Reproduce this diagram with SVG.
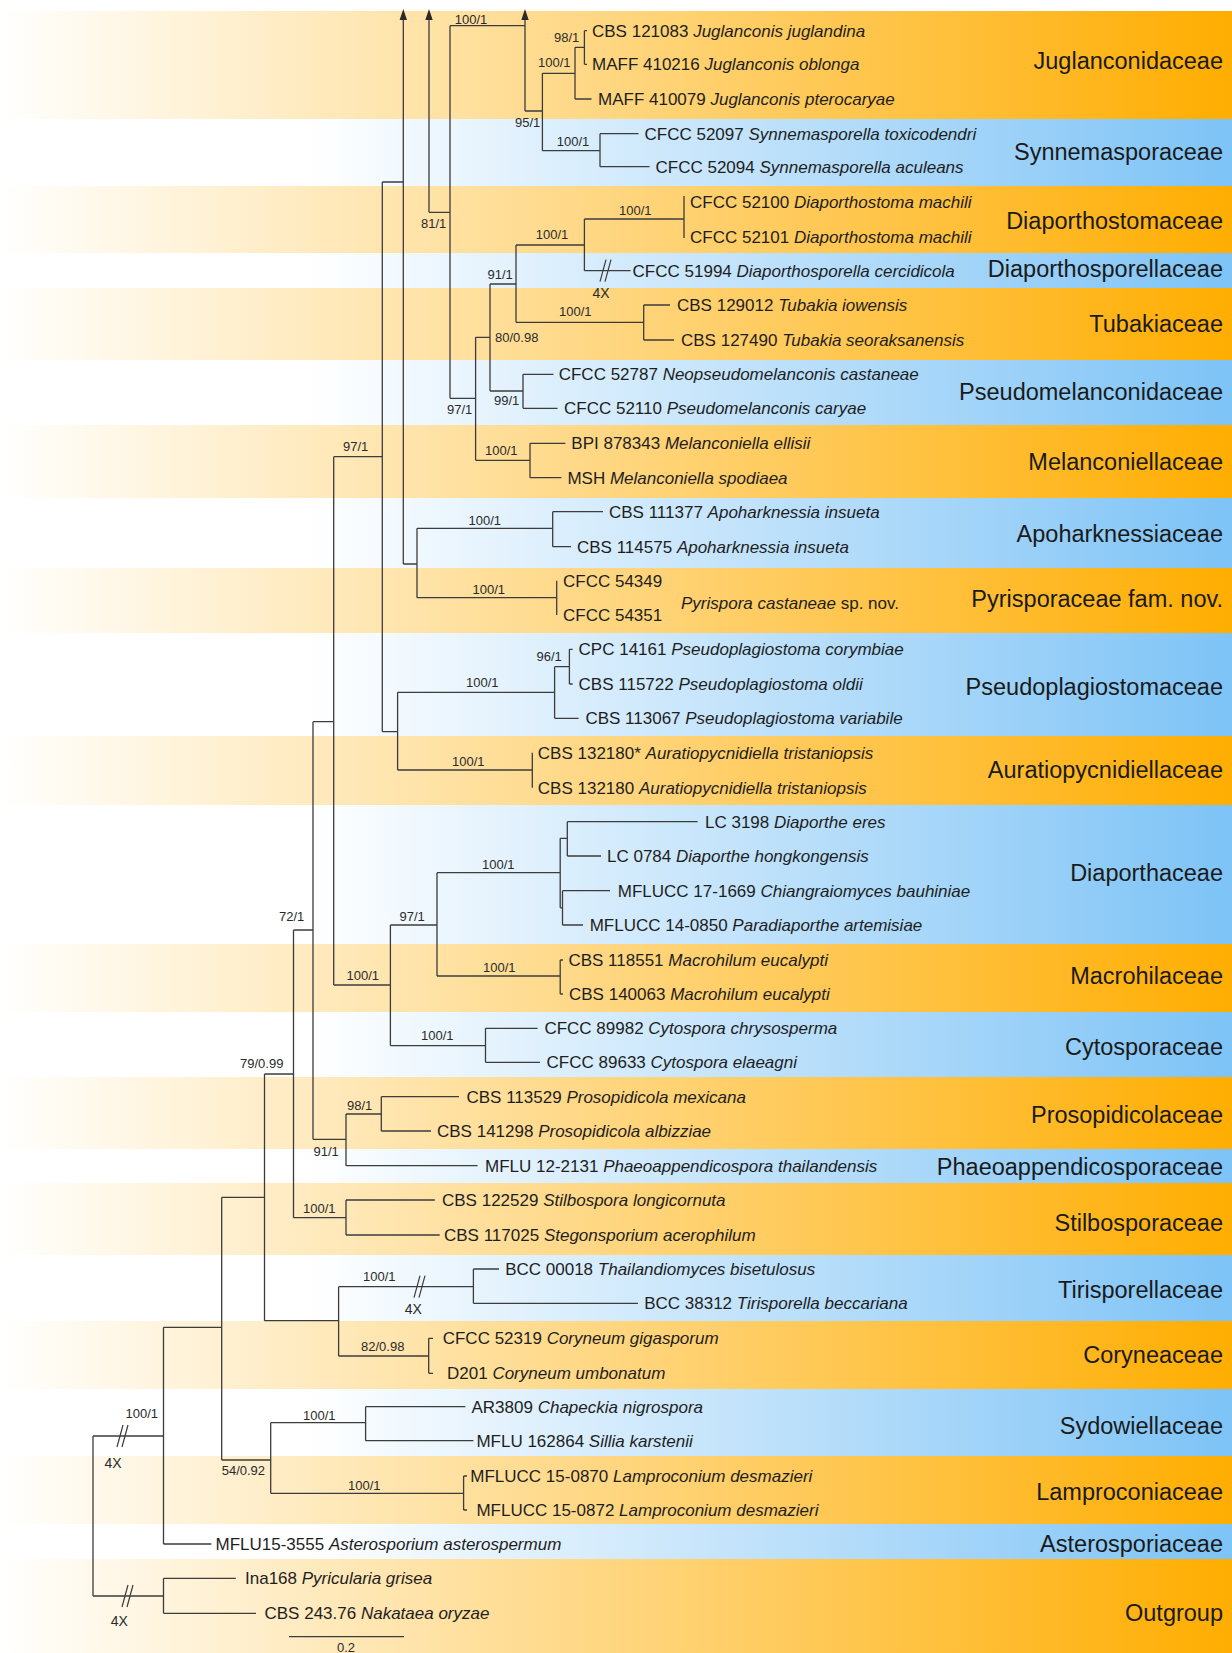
<svg xmlns="http://www.w3.org/2000/svg" xmlns:xlink="http://www.w3.org/1999/xlink" width="1232" height="1653" viewBox="0 0 1232 1653">
<defs>
<linearGradient id="gO" gradientUnits="userSpaceOnUse" x1="0" y1="0" x2="1232" y2="0">
<stop offset="0" stop-color="#FFFFFF"/><stop offset="1" stop-color="#FFAD00"/>
</linearGradient>
<linearGradient id="gB" gradientUnits="userSpaceOnUse" x1="0" y1="0" x2="1232" y2="0">
<stop offset="0" stop-color="#FFFFFF"/><stop offset="0.25" stop-color="#FFFFFF"/><stop offset="1" stop-color="#7DC3F6"/>
</linearGradient>
<path id="brk" d="M-6 11 L0 -11 M-1 11 L5 -11" stroke="#3c3c3c" stroke-width="1.2" fill="none"/>
<style>
.o{fill:url(#gO)}
.b{fill:url(#gB)}
.br{stroke:#3c3c3c;stroke-width:1.3;fill:none}
.t{font-family:"Liberation Sans",Arial,sans-serif;font-size:17px;fill:#1e1e1e}
.i{font-style:italic}
.s{font-family:"Liberation Sans",Arial,sans-serif;font-size:13px;fill:#2a2a2a}
.x{font-family:"Liberation Sans",Arial,sans-serif;font-size:14px;fill:#2a2a2a;text-anchor:middle}
.f{font-family:"Liberation Sans",Arial,sans-serif;font-size:23.5px;fill:#1a1a1a;text-anchor:end}
.ah{fill:#2a2a2a}
</style>
</defs>
<rect width="1232" height="1653" fill="#FFFFFF"/>
<g id="bands">
<rect class="o" x="0" y="11" width="1232" height="108"/>
<rect class="b" x="0" y="119" width="1232" height="67"/>
<rect class="o" x="0" y="186" width="1232" height="67"/>
<rect class="b" x="0" y="253" width="1232" height="35"/>
<rect class="o" x="0" y="288" width="1232" height="72"/>
<rect class="b" x="0" y="360" width="1232" height="65"/>
<rect class="o" x="0" y="425" width="1232" height="73"/>
<rect class="b" x="0" y="498" width="1232" height="70"/>
<rect class="o" x="0" y="568" width="1232" height="65"/>
<rect class="b" x="0" y="633" width="1232" height="103"/>
<rect class="o" x="0" y="736" width="1232" height="69"/>
<rect class="b" x="0" y="805" width="1232" height="139"/>
<rect class="o" x="0" y="944" width="1232" height="68"/>
<rect class="b" x="0" y="1012" width="1232" height="65"/>
<rect class="o" x="0" y="1077" width="1232" height="72"/>
<rect class="b" x="0" y="1149" width="1232" height="34"/>
<rect class="o" x="0" y="1183" width="1232" height="72"/>
<rect class="b" x="0" y="1255" width="1232" height="66"/>
<rect class="o" x="0" y="1321" width="1232" height="68"/>
<rect class="b" x="0" y="1389" width="1232" height="67"/>
<rect class="o" x="0" y="1456" width="1232" height="68"/>
<rect class="b" x="0" y="1524" width="1232" height="35"/>
<rect class="o" x="0" y="1559" width="1232" height="94"/>
</g>
<g id="connectors">
<path class="br" d="M93 1436 V1596 M93 1436 H163.5 M93 1596 H163.5"/>
<path class="br" d="M163.5 1327.3 V1544 M163.5 1544 H211.3 M163.5 1327.3 H221.7"/>
<path class="br" d="M163.5 1578.3 V1613.3 M163.5 1578.3 H235.8 M163.5 1613.3 H256"/>
<path class="br" d="M221.7 1197.3 V1460 M221.7 1197.3 H264.5 M221.7 1460 H270.7"/>
<path class="br" d="M270.7 1422.7 V1493.3 M270.7 1422.7 H365.6 M270.7 1493.3 H463.6"/>
<path class="br" d="M365.6 1406.7 V1440.7 M365.6 1406.7 H465.4 M365.6 1440.7 H473.4"/>
<path class="br" d="M463.6 1476 V1510 M463.6 1476 H467 M463.6 1510 H467"/>
<path class="br" d="M264.5 1074 V1320.7 M264.5 1074 H293.5 M264.5 1320.7 H338.6"/>
<path class="br" d="M338.6 1286.7 V1356 M338.6 1286.7 H473.4 M338.6 1356 H428.7"/>
<path class="br" d="M473.4 1269 V1303.3 M473.4 1269 H499 M473.4 1303.3 H638"/>
<path class="br" d="M428.7 1338.3 V1373.3 M428.7 1338.3 H433 M428.7 1373.3 H433"/>
<path class="br" d="M293.5 930 V1217.7 M293.5 930 H313 M293.5 1217.7 H346"/>
<path class="br" d="M346 1200 V1235 M346 1200 H434.8 M346 1235 H439.7"/>
<path class="br" d="M313 721.7 V1139.3 M313 721.7 H333.7 M313 1139.3 H346"/>
<path class="br" d="M346 1114 V1165.7 M346 1114 H381.3 M346 1165.7 H477.6"/>
<path class="br" d="M381.3 1096.7 V1131 M381.3 1096.7 H459 M381.3 1131 H431"/>
<path class="br" d="M333.7 456.7 V985 M333.7 456.7 H382.3 M333.7 985 H390.4"/>
<path class="br" d="M390.4 925 V1045.7 M390.4 925 H437 M390.4 1045.7 H485.5"/>
<path class="br" d="M485.5 1028.3 V1062.3 M485.5 1028.3 H537.6 M485.5 1062.3 H540"/>
<path class="br" d="M437 872.7 V976 M437 872.7 H560.2 M437 976 H560.2"/>
<path class="br" d="M560.2 960 V994 M560.2 960 H563 M560.2 994 H563"/>
<path class="br" d="M560.2 838.3 V907.8 M560.2 838.3 H567.3 M560.2 907.8 H562.5"/>
<path class="br" d="M567.3 821.7 V856 M567.3 821.7 H697.7 M567.3 856 H601"/>
<path class="br" d="M562.5 890.7 V925 M562.5 890.7 H610 M562.5 925 H583"/>
<path class="br" d="M382.3 182 V731.7 M382.3 182 H403.3 M382.3 731.7 H397.6"/>
<path class="br" d="M397.6 692.3 V770 M397.6 692.3 H554.6 M397.6 770 H532.3"/>
<path class="br" d="M554.6 666.7 V718.3 M554.6 666.7 H569.4 M554.6 718.3 H578.6"/>
<path class="br" d="M569.4 649.3 V684 M569.4 649.3 H572.7 M569.4 684 H572.7"/>
<path class="br" d="M532.3 752.7 V787.7"/>
<path class="br" d="M403.3 18 V564 M403.3 564 H417"/>
<path class="br" d="M417 528.3 V597.7 M417 528.3 H552.7 M417 597.7 H556.7"/>
<path class="br" d="M552.7 511.7 V546.7 M552.7 511.7 H603 M552.7 546.7 H571"/>
<path class="br" d="M556.7 580.7 V615"/>
<path class="br" d="M429 18 V212.3 M429 212.3 H450"/>
<path class="br" d="M450 25.7 V398.3 M450 25.7 H525 M450 398.3 H475.6"/>
<path class="br" d="M525 18 V111 M525 111 H542.4"/>
<path class="br" d="M542.4 73.3 V150.7 M542.4 73.3 H575 M542.4 150.7 H600"/>
<path class="br" d="M575 47.3 V99 M575 47.3 H584.4 M575 99 H591.5"/>
<path class="br" d="M584.4 30.7 V64.3 M584.4 30.7 H587 M584.4 64.3 H587"/>
<path class="br" d="M600 133.7 V166.7 M600 133.7 H638.5 M600 166.7 H649.6"/>
<path class="br" d="M475.6 337.3 V460.3 M475.6 337.3 H490 M475.6 460.3 H530"/>
<path class="br" d="M490 284 V391 M490 284 H516 M490 391 H523"/>
<path class="br" d="M516 245 V322.3 M516 245 H584.4 M516 322.3 H643.7"/>
<path class="br" d="M584.4 219 V270.7 M584.4 219 H684 M584.4 270.7 H630.6"/>
<path class="br" d="M684 196 V238"/>
<path class="br" d="M643.7 305 V340 M643.7 305 H670 M643.7 340 H674"/>
<path class="br" d="M523 374.3 V408.3 M523 374.3 H553.5 M523 408.3 H557.5"/>
<path class="br" d="M530 443.3 V477.7 M530 443.3 H565.4 M530 477.7 H561.4"/>
<polygon class="ah" points="403.3,9 399.6,20 407,20"/>
<polygon class="ah" points="429,9 425.3,20 432.7,20"/>
<polygon class="ah" points="525,9 521.3,20 528.7,20"/>
<use xlink:href="#brk" href="#brk" x="606" y="270.7"/>
<use xlink:href="#brk" href="#brk" x="420" y="1286.7"/>
<use xlink:href="#brk" href="#brk" x="123" y="1436"/>
<use xlink:href="#brk" href="#brk" x="128" y="1596"/>
<path class="br" d="M289 1636.7 H404"/>
</g>
<g id="supports">
<text class="s" x="454.7" y="23.8">100/1</text>
<text class="s" x="554" y="42.2">98/1</text>
<text class="s" x="538" y="66.8">100/1</text>
<text class="s" x="515" y="127.2">95/1</text>
<text class="s" x="556.7" y="146.2">100/1</text>
<text class="s" x="421" y="227.5">81/1</text>
<text class="s" x="619" y="215.2">100/1</text>
<text class="s" x="535.7" y="238.5">100/1</text>
<text class="s" x="487.5" y="278.5">91/1</text>
<text class="s" x="559" y="316.2">100/1</text>
<text class="s" x="495" y="341.8">80/0.98</text>
<text class="s" x="447" y="413.8">97/1</text>
<text class="s" x="494" y="405.2">99/1</text>
<text class="s" x="485" y="455.2">100/1</text>
<text class="s" x="343" y="451.2">97/1</text>
<text class="s" x="468.5" y="524.5">100/1</text>
<text class="s" x="472.5" y="593.5">100/1</text>
<text class="s" x="466" y="687.2">100/1</text>
<text class="s" x="536.5" y="661.2">96/1</text>
<text class="s" x="452" y="765.5">100/1</text>
<text class="s" x="482" y="868.5">100/1</text>
<text class="s" x="399.5" y="920.5">97/1</text>
<text class="s" x="279" y="921.2">72/1</text>
<text class="s" x="346.5" y="979.5">100/1</text>
<text class="s" x="483" y="971.8">100/1</text>
<text class="s" x="421" y="1039.5">100/1</text>
<text class="s" x="240" y="1067.8">79/0.99</text>
<text class="s" x="347" y="1109.5">98/1</text>
<text class="s" x="313.5" y="1156.2">91/1</text>
<text class="s" x="303" y="1212.8">100/1</text>
<text class="s" x="363" y="1281.2">100/1</text>
<text class="s" x="361" y="1350.5">82/0.98</text>
<text class="s" x="125.5" y="1417.8">100/1</text>
<text class="s" x="303" y="1419.5">100/1</text>
<text class="s" x="221.7" y="1475.2">54/0.92</text>
<text class="s" x="348" y="1489.5">100/1</text>
<text class="x" x="601" y="298">4X</text>
<text class="x" x="413.3" y="1314">4X</text>
<text class="x" x="113" y="1468">4X</text>
<text class="x" x="119.4" y="1626">4X</text>
<text class="s" x="346" y="1652" font-size="11" text-anchor="middle">0.2</text>
</g>
<g id="taxa">
<g id="t1"><text class="t" x="592" y="36.7">CBS 121083 <tspan class="i">Juglanconis juglandina</tspan></text></g>
<g id="t2"><text class="t" x="592" y="70.3">MAFF 410216 <tspan class="i">Juglanconis oblonga</tspan></text></g>
<g id="t3"><text class="t" x="598" y="105">MAFF 410079 <tspan class="i">Juglanconis pterocaryae</tspan></text></g>
<g id="t4"><text class="t" x="644.5" y="139.7">CFCC 52097 <tspan class="i">Synnemasporella toxicodendri</tspan></text></g>
<g id="t5"><text class="t" x="655.5" y="172.7">CFCC 52094 <tspan class="i">Synnemasporella aculeans</tspan></text></g>
<g id="t6"><text class="t" x="690" y="208.3">CFCC 52100 <tspan class="i">Diaporthostoma machili</tspan></text></g>
<g id="t7"><text class="t" x="690" y="242.7">CFCC 52101 <tspan class="i">Diaporthostoma machili</tspan></text></g>
<g id="t8"><text class="t" x="632.6" y="276.7">CFCC 51994 <tspan class="i">Diaporthosporella cercidicola</tspan></text></g>
<g id="t9"><text class="t" x="677" y="311">CBS 129012 <tspan class="i">Tubakia iowensis</tspan></text></g>
<g id="t10"><text class="t" x="681" y="346">CBS 127490 <tspan class="i">Tubakia seoraksanensis</tspan></text></g>
<g id="t11"><text class="t" x="558.7" y="380.3">CFCC 52787 <tspan class="i">Neopseudomelanconis castaneae</tspan></text></g>
<g id="t12"><text class="t" x="564" y="414.3">CFCC 52110 <tspan class="i">Pseudomelanconis caryae</tspan></text></g>
<g id="t13"><text class="t" x="571.3" y="449.3">BPI 878343 <tspan class="i">Melanconiella ellisii</tspan></text></g>
<g id="t14"><text class="t" x="567.4" y="483.7">MSH <tspan class="i">Melanconiella spodiaea</tspan></text></g>
<g id="t15"><text class="t" x="609" y="517.7">CBS 111377 <tspan class="i">Apoharknessia insueta</tspan></text></g>
<g id="t16"><text class="t" x="577" y="552.7">CBS 114575 <tspan class="i">Apoharknessia insueta</tspan></text></g>
<g id="t17"><text class="t" x="563" y="586.7">CFCC 54349</text></g>
<g id="t18"><text class="t" x="563" y="621">CFCC 54351</text></g>
<g id="t18b"><text class="t" x="681" y="608.7"><tspan class="i">Pyrispora castaneae</tspan> sp. nov.</text></g>
<g id="t19"><text class="t" x="578.6" y="655.3">CPC 14161 <tspan class="i">Pseudoplagiostoma corymbiae</tspan></text></g>
<g id="t20"><text class="t" x="578.6" y="690">CBS 115722 <tspan class="i">Pseudoplagiostoma oldii</tspan></text></g>
<g id="t21"><text class="t" x="585.4" y="724.3">CBS 113067 <tspan class="i">Pseudoplagiostoma variabile</tspan></text></g>
<g id="t22"><text class="t" x="537.8" y="758.7">CBS 132180* <tspan class="i">Auratiopycnidiella tristaniopsis</tspan></text></g>
<g id="t23"><text class="t" x="537.8" y="793.7">CBS 132180 <tspan class="i">Auratiopycnidiella tristaniopsis</tspan></text></g>
<g id="t24"><text class="t" x="705" y="827.7">LC 3198 <tspan class="i">Diaporthe eres</tspan></text></g>
<g id="t25"><text class="t" x="607" y="862">LC 0784 <tspan class="i">Diaporthe hongkongensis</tspan></text></g>
<g id="t26"><text class="t" x="617.8" y="896.7">MFLUCC 17-1669 <tspan class="i">Chiangraiomyces bauhiniae</tspan></text></g>
<g id="t27"><text class="t" x="589.7" y="931">MFLUCC 14-0850 <tspan class="i">Paradiaporthe artemisiae</tspan></text></g>
<g id="t28"><text class="t" x="568.4" y="966">CBS 118551 <tspan class="i">Macrohilum eucalypti</tspan></text></g>
<g id="t29"><text class="t" x="569" y="1000">CBS 140063 <tspan class="i">Macrohilum eucalypti</tspan></text></g>
<g id="t30"><text class="t" x="544.4" y="1034.3">CFCC 89982 <tspan class="i">Cytospora chrysosperma</tspan></text></g>
<g id="t31"><text class="t" x="546.6" y="1068.3">CFCC 89633 <tspan class="i">Cytospora elaeagni</tspan></text></g>
<g id="t32"><text class="t" x="466.5" y="1102.7">CBS 113529 <tspan class="i">Prosopidicola mexicana</tspan></text></g>
<g id="t33"><text class="t" x="437" y="1137">CBS 141298 <tspan class="i">Prosopidicola albizziae</tspan></text></g>
<g id="t34"><text class="t" x="485" y="1171.7">MFLU 12-2131 <tspan class="i">Phaeoappendicospora thailandensis</tspan></text></g>
<g id="t35"><text class="t" x="442" y="1206">CBS 122529 <tspan class="i">Stilbospora longicornuta</tspan></text></g>
<g id="t36"><text class="t" x="444" y="1241">CBS 117025 <tspan class="i">Stegonsporium acerophilum</tspan></text></g>
<g id="t37"><text class="t" x="505.2" y="1275">BCC 00018 <tspan class="i">Thailandiomyces bisetulosus</tspan></text></g>
<g id="t38"><text class="t" x="644.2" y="1309.3">BCC 38312 <tspan class="i">Tirisporella beccariana</tspan></text></g>
<g id="t39"><text class="t" x="442.7" y="1344.3">CFCC 52319 <tspan class="i">Coryneum gigasporum</tspan></text></g>
<g id="t40"><text class="t" x="447" y="1379.3">D201 <tspan class="i">Coryneum umbonatum</tspan></text></g>
<g id="t41"><text class="t" x="471.5" y="1412.7">AR3809 <tspan class="i">Chapeckia nigrospora</tspan></text></g>
<g id="t42"><text class="t" x="476.4" y="1446.7">MFLU 162864 <tspan class="i">Sillia karstenii</tspan></text></g>
<g id="t43"><text class="t" x="470.3" y="1482">MFLUCC 15-0870 <tspan class="i">Lamproconium desmazieri</tspan></text></g>
<g id="t44"><text class="t" x="476.4" y="1516">MFLUCC 15-0872 <tspan class="i">Lamproconium desmazieri</tspan></text></g>
<g id="t45"><text class="t" x="215.5" y="1550">MFLU15-3555 <tspan class="i">Asterosporium asterospermum</tspan></text></g>
<g id="t46"><text class="t" x="245" y="1584.3">Ina168 <tspan class="i">Pyricularia grisea</tspan></text></g>
<g id="t47"><text class="t" x="264.5" y="1619.3">CBS 243.76 <tspan class="i">Nakataea oryzae</tspan></text></g>
</g>
<g id="families">
<g id="f1"><text class="f" x="1223" y="68.5">Juglanconidaceae</text></g>
<g id="f2"><text class="f" x="1223" y="160.2">Synnemasporaceae</text></g>
<g id="f3"><text class="f" x="1223" y="228.5">Diaporthostomaceae</text></g>
<g id="f4"><text class="f" x="1223" y="276.8">Diaporthosporellaceae</text></g>
<g id="f5"><text class="f" x="1223" y="331.8">Tubakiaceae</text></g>
<g id="f6"><text class="f" x="1223" y="400.2">Pseudomelanconidaceae</text></g>
<g id="f7"><text class="f" x="1223" y="470.2">Melanconiellaceae</text></g>
<g id="f8"><text class="f" x="1223" y="541.8">Apoharknessiaceae</text></g>
<g id="f9"><text class="f" x="1223" y="607.2">Pyrisporaceae fam. nov.</text></g>
<g id="f10"><text class="f" x="1223" y="694.5">Pseudoplagiostomaceae</text></g>
<g id="f11"><text class="f" x="1223" y="777.9">Auratiopycnidiellaceae</text></g>
<g id="f12"><text class="f" x="1223" y="881.2">Diaporthaceae</text></g>
<g id="f13"><text class="f" x="1223" y="983.5">Macrohilaceae</text></g>
<g id="f14"><text class="f" x="1223" y="1055.1">Cytosporaceae</text></g>
<g id="f15"><text class="f" x="1223" y="1122.5">Prosopidicolaceae</text></g>
<g id="f16"><text class="f" x="1223" y="1175.3">Phaeoappendicosporaceae</text></g>
<g id="f17"><text class="f" x="1223" y="1231.1">Stilbosporaceae</text></g>
<g id="f18"><text class="f" x="1223" y="1297.5">Tirisporellaceae</text></g>
<g id="f19"><text class="f" x="1223" y="1362.9">Coryneaceae</text></g>
<g id="f20"><text class="f" x="1223" y="1433.5">Sydowiellaceae</text></g>
<g id="f21"><text class="f" x="1223" y="1499.9">Lamproconiaceae</text></g>
<g id="f22"><text class="f" x="1223" y="1551.5">Asterosporiaceae</text></g>
<g id="f23"><text class="f" x="1223" y="1621.1">Outgroup</text></g>
</g>
</svg>
